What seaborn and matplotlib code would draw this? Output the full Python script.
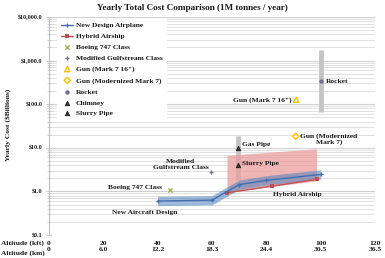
import matplotlib
matplotlib.use("Agg")
import matplotlib.pyplot as plt
import seaborn as sns
import numpy as np

# ---- data ----
new_x = [40, 60, 70, 80, 100]
new_y = [0.60, 0.63, 1.43, 1.79, 2.45]
new_lo = [0.47, 0.49, 1.12, 1.40, 1.92]
new_hi = [0.77, 0.80, 1.83, 2.29, 3.13]

hyb_x = [65.6, 82, 98.5]
hyb_y = [0.93, 1.32, 1.88]
pink_x = [65.5, 98.5]
pink_lo = [0.95, 1.75]
pink_hi = [6.7, 9.5]

boeing_x, boeing_y = [44.7], [1.09]
gulf_x, gulf_y = [59.7], [2.77]
gun7_x, gun7_y = [91], [127]
gunmod_x, gunmod_y = [90.8], [18.3]
rocket_x, rocket_y = [100], [347]
chim_x, chim_y = [69.7], [9.8]
slurry_x, slurry_y = [69.7], [4.1]

pipe_bar_x, pipe_bar = 69.7, [1.8, 19]
rocket_bar_x, rocket_bar = 100, [66, 1780]

kft_ticks = [0, 20, 40, 60, 80, 100, 120]
km_labels = ["0", "6.0", "12.2", "18.3", "24.4", "30.5", "36.5"]
y_ticks = [0.1, 1, 10, 100, 1000, 10000]
y_labels = ["$0.1", "$1.0", "$10.0", "$100.0", "$1,000.0", "$10,000.0"]

sns.set_theme(style="white")
plt.rcParams['font.family'] = ['Liberation Serif', 'DejaVu Serif']
plt.rcParams['font.weight'] = 'bold'
TXT = '#1a1a1a'

fig = plt.figure(figsize=(3.85, 2.58), dpi=100)
ax = fig.add_axes([49/385, 1-235/258, (375-49)/385, (235-17)/258])
ax.set_yscale('log')
ax.set_xlim(0, 120)
ax.set_ylim(0.1, 10000)

# grid
ax.yaxis.set_minor_locator(matplotlib.ticker.LogLocator(base=10, subs=np.arange(2, 10)))
ax.grid(True, which='major', axis='y', color='#d0d0d0', lw=0.8)
ax.grid(True, which='minor', axis='y', color='#dcdcdc', lw=0.6)
ax.set_axisbelow(True)

# gray bars
ax.vlines(pipe_bar_x, pipe_bar[0], pipe_bar[1], color='#c4c4c4', lw=3.5, zorder=2)
ax.vlines(rocket_bar_x, rocket_bar[0], rocket_bar[1], color='#c4c4c4', lw=3.5, zorder=2)

# bands
ax.fill_between(pink_x, pink_lo, pink_hi, color='#eb9c9c', alpha=0.75, lw=0, zorder=2.5)
ax.fill_between(new_x, new_lo, new_hi, color='#4f81bd', alpha=0.55, lw=0, zorder=3)

# lines
sns.lineplot(x=new_x, y=new_y, ax=ax, color='#3f6fb0', lw=1.0, marker='+', markersize=3,
             markeredgewidth=0.9, markeredgecolor='#3f6fb0', label='New Design Airplane', zorder=5)
sns.lineplot(x=hyb_x, y=hyb_y, ax=ax, color='#c0504d', lw=1.0, marker='s', markersize=3,
             markeredgewidth=0, label='Hybrid Airship', zorder=4)

# points
sns.scatterplot(x=boeing_x, y=boeing_y, ax=ax, marker='x', s=10, color='#9bbb59', linewidth=1.0,
                label='Boeing 747 Class', zorder=5)
sns.scatterplot(x=gulf_x, y=gulf_y, ax=ax, marker='+', s=12, color='#8064a2', linewidth=1.0,
                label='Modified Gulfstream Class', zorder=5)
sns.scatterplot(x=gun7_x, y=gun7_y, ax=ax, marker='^', s=14, facecolor='none', edgecolor='#ffc000',
                linewidth=1.0, label='Gun (Mark 7 16")', zorder=5)
sns.scatterplot(x=gunmod_x, y=gunmod_y, ax=ax, marker='D', s=10, facecolor='none', edgecolor='#ffc000',
                linewidth=1.0, label='Gun (Modernized Mark 7)', zorder=5)
sns.scatterplot(x=rocket_x, y=rocket_y, ax=ax, marker='o', s=10, color='#7a6a98', linewidth=0,
                label='Rocket', zorder=5)
sns.scatterplot(x=chim_x, y=chim_y, ax=ax, marker='^', s=10, color='#3a3a3a', edgecolor='#1a1a1a',
                linewidth=0.6, label='Chimney', zorder=5)
sns.scatterplot(x=slurry_x, y=slurry_y, ax=ax, marker='^', s=10, color='#3a3a3a', edgecolor='#1a1a1a',
                linewidth=0.6, label='Slurry Pipe', zorder=5)

# annotations
fs = 5.4
ax.text(35.4, 0.335, 'New Aircraft Design', ha='center', va='center', fontsize=fs, color=TXT, fontweight='bold')
ax.text(41.4, 1.23, 'Boeing 747 Class', ha='right', va='center', fontsize=fs, color=TXT, fontweight='bold')
ax.text(48.5, 4.1, 'Modified\nGulfstream Class', ha='center', va='center', fontsize=fs, color=TXT,
        fontweight='bold', linespacing=1.1)
ax.text(71.2, 4.3, 'Slurry Pipe', ha='left', va='center', fontsize=fs, color=TXT, fontweight='bold')
ax.text(71.2, 11.9, 'Gas Pipe', ha='left', va='center', fontsize=fs, color=TXT, fontweight='bold')
ax.text(82.6, 0.84, 'Hybrid Airship', ha='left', va='center', fontsize=fs, color=TXT, fontweight='bold')
ax.text(103, 15.6, 'Gun (Modernized\nMark 7)', ha='center', va='center', fontsize=fs, color=TXT,
        fontweight='bold', linespacing=1.1)
ax.text(89.3, 122, 'Gun (Mark 7 16")', ha='right', va='center', fontsize=fs, color=TXT, fontweight='bold')
ax.text(101.9, 339, 'Rocket', ha='left', va='center', fontsize=fs, color=TXT, fontweight='bold')

# axes styling
for s in ['top', 'right', 'bottom']:
    ax.spines[s].set_visible(False)
ax.spines['left'].set_color('#bfbfbf')
ax.spines['left'].set_linewidth(0.8)
ax.set_yticks(y_ticks)
ax.set_yticklabels(y_labels, fontsize=4.4, color=TXT, fontweight='bold')
ax.tick_params(axis='y', which='major', left=True, direction='inout', length=5, width=0.6,
               color='#bfbfbf', pad=2)
ax.tick_params(axis='y', which='minor', left=True, direction='inout', length=3, width=0.5, color='#bfbfbf')
ax.set_xticks(kft_ticks)
ax.set_xticklabels([f"{k}\n{m}" for k, m in zip(kft_ticks, km_labels)], fontsize=fs, color=TXT,
                   fontweight='bold', linespacing=1.45)
ax.tick_params(axis='x', length=0, pad=4)
ax.set_xlabel('')
ax.set_ylabel('')
fig.text(8/385, 1-125/258, 'Yearly Cost ($Billions)', rotation=90, ha='center', va='center',
         fontsize=fs, color=TXT, fontweight='bold')
fig.text(1/385, 1-243/258, 'Altitude (kft)', ha='left', va='center', fontsize=fs, color=TXT, fontweight='bold')
fig.text(1/385, 1-253/258, 'Altitude (km)', ha='left', va='center', fontsize=fs, color=TXT, fontweight='bold')

fig.text(0.5, 1-8/258, 'Yearly Total Cost Comparison (1M tonnes / year)', ha='center', va='center',
         fontsize=6.6, color=TXT, fontweight='bold')

leg = ax.legend(loc='upper left', bbox_to_anchor=(7/326, 1.0), fontsize=fs, frameon=True,
                facecolor='white', edgecolor='white', framealpha=1.0, handlelength=1.6,
                handletextpad=0.3, labelspacing=0.62, borderpad=0.5, borderaxespad=0.2)
for t in leg.get_texts():
    t.set_color(TXT)
    t.set_fontweight('bold')
leg.set_zorder(10)

fig.savefig('out.png', dpi=100)
